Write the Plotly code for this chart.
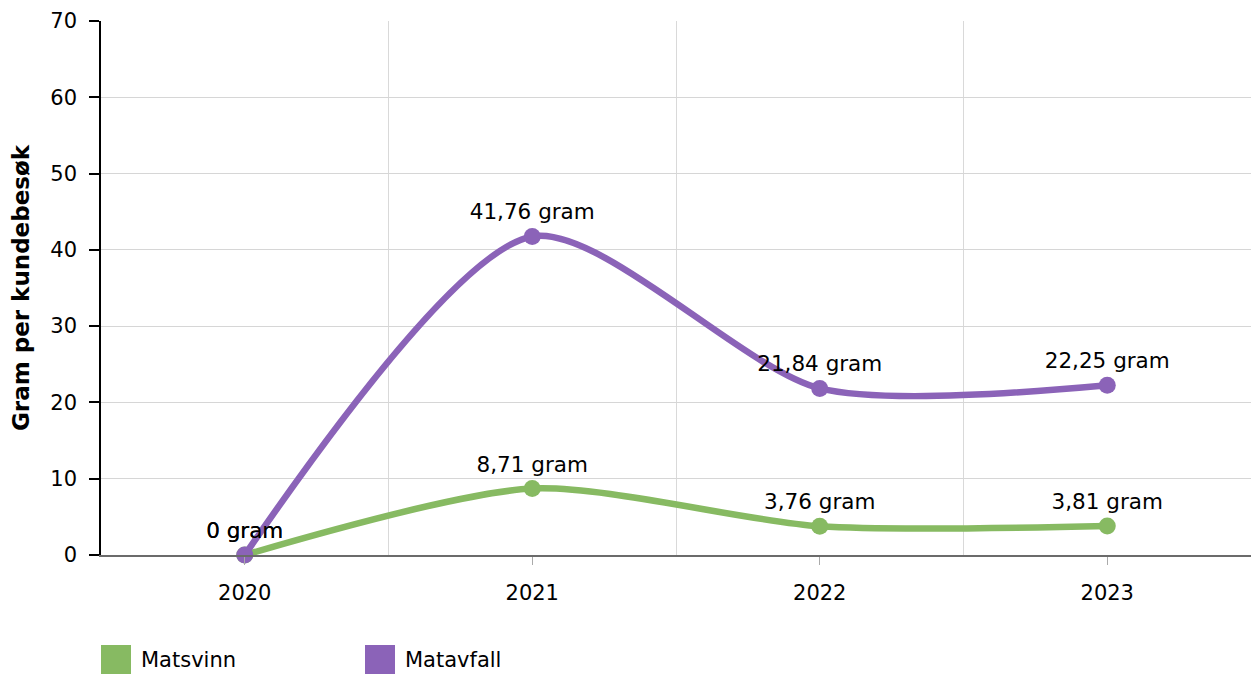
import plotly.graph_objects as go

years = ["2020", "2021", "2022", "2023"]
series_names = ["Matsvinn", "Matavfall"]
matsvinn = [0, 8.71, 3.76, 3.81]
matavfall = [0, 41.76, 21.84, 22.25]
colors = ["#87BA62", "#8B63B8"]
y_ticks = [0, 10, 20, 30, 40, 50, 60, 70]

def fmt(v):
    s = f"{v:.2f}".rstrip("0").rstrip(".")
    return s.replace(".", ",") + " gram"

xs = list(range(len(years)))
FONT = "DejaVu Sans"

W, H = 1253, 675
PL, PR, PT, PB = 101, 1251, 21, 555

fig = go.Figure()
for name, vals, col in zip(series_names, [matsvinn, matavfall], colors):
    fig.add_trace(go.Scatter(
        x=xs, y=vals, name=name, mode="lines+markers+text",
        line=dict(color=col, width=6.5, shape="spline", smoothing=0.75),
        marker=dict(color=col, size=17),
        text=[fmt(v) for v in vals], textposition="top center",
        textfont=dict(family=FONT, size=21.5, color="#000"),
        showlegend=False, cliponaxis=False, hoverinfo="skip",
    ))

fig.update_layout(
    width=W, height=H,
    margin=dict(l=PL, r=W - PR, t=PT, b=H - PB),
    paper_bgcolor="white", plot_bgcolor="white",
    font=dict(family=FONT, size=21, color="#000"),
    xaxis=dict(
        range=[-0.5, 3.5], tickvals=xs, ticktext=years,
        showgrid=False, zeroline=False,
        showline=True, linecolor="#6b6b6b", linewidth=1.5,
        ticks="outside", ticklen=8, tickcolor="#aaaaaa", tickwidth=1,
        ticklabelstandoff=10,
        tickfont=dict(family=FONT, size=21, color="#000"),
        minor=dict(tickvals=[0.5, 1.5, 2.5], showgrid=True,
                   gridcolor="#d9d9d9", gridwidth=1, ticks=""),
    ),
    yaxis=dict(
        range=[0, 70], tickvals=y_ticks,
        showgrid=True, gridcolor="#d6d6d6", gridwidth=1.2,
        zeroline=False, showline=True, linecolor="#000", linewidth=1.5,
        ticks="outside", ticklen=10, tickcolor="#000", tickwidth=1.5,
        ticklabelstandoff=8,
        tickfont=dict(family=FONT, size=21, color="#000"),
        title=dict(text="<b>Gram per kundebesøk</b>", standoff=14,
                   font=dict(family=FONT, size=23, color="#000")),
    ),
)

# custom legend with large square swatches
legend_x = [101, 365]
pw = PR - PL
ph = PB - PT
for name, col, lx in zip(series_names, colors, legend_x):
    fig.add_shape(type="rect", xref="paper", yref="paper",
                  x0=(lx - PL) / pw, x1=(lx + 30 - PL) / pw,
                  y0=-(645 - PB) / ph, y1=-(674 - PB) / ph,
                  fillcolor=col, line=dict(width=0))
    fig.add_annotation(xref="paper", yref="paper",
                       x=(lx + 38 - PL) / pw, y=-(660 - PB) / ph,
                       text=name, showarrow=False, xanchor="left", yanchor="middle",
                       font=dict(family=FONT, size=21, color="#000"))

fig.write_html(
    "out.html",
    config={"displayModeBar": False},
    post_script="document.body.style.margin='0';document.body.style.overflow='hidden';",
)
